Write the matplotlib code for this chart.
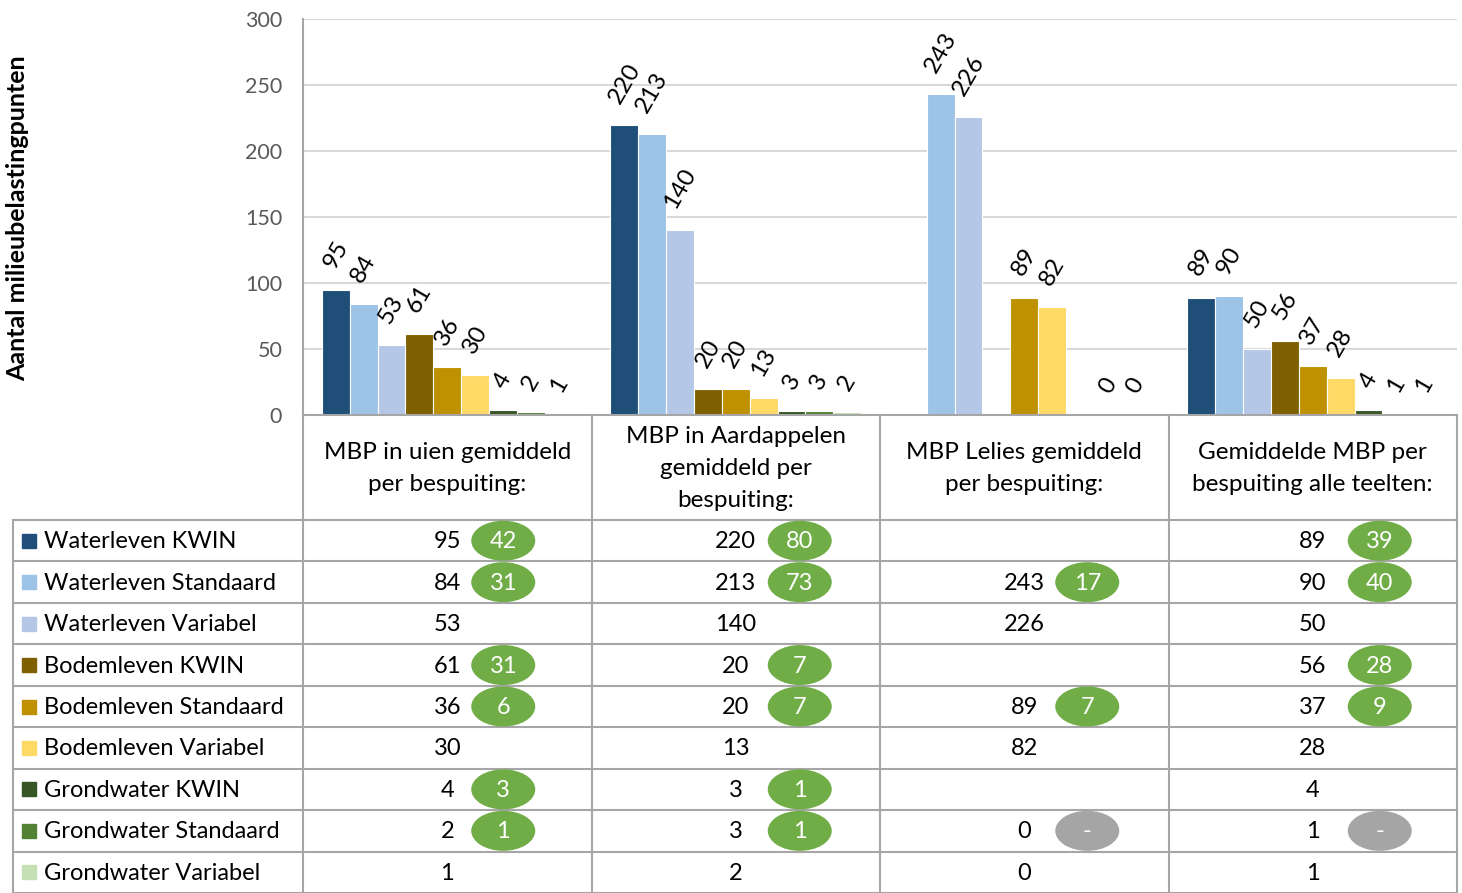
import numpy as np
import matplotlib
matplotlib.use("Agg")
import matplotlib.pyplot as plt
from matplotlib.patches import Ellipse, Rectangle

plt.rcParams['font.family'] = ['Lato', 'DejaVu Sans']

# ---------------- data ----------------
categories = ["MBP in uien gemiddeld\nper bespuiting:",
              "MBP in Aardappelen\ngemiddeld per\nbespuiting:",
              "MBP Lelies gemiddeld\nper bespuiting:",
              "Gemiddelde MBP per\nbespuiting alle teelten:"]

series_names = ["Waterleven KWIN", "Waterleven Standaard", "Waterleven Variabel",
                "Bodemleven KWIN", "Bodemleven Standaard", "Bodemleven Variabel",
                "Grondwater KWIN", "Grondwater Standaard", "Grondwater Variabel"]

series_colors = ["#1F4E79", "#9DC3E6", "#B4C7E7",
                 "#7F6000", "#BF9000", "#FFD966",
                 "#375623", "#548235", "#C5E0B4"]

nan = np.nan
waterleven_kwin = [95, 220, nan, 89]
waterleven_standaard = [84, 213, 243, 90]
waterleven_variabel = [53, 140, 226, 50]
bodemleven_kwin = [61, 20, nan, 56]
bodemleven_standaard = [36, 20, 89, 37]
bodemleven_variabel = [30, 13, 82, 28]
grondwater_kwin = [4, 3, nan, 4]
grondwater_standaard = [2, 3, 0, 1]
grondwater_variabel = [1, 2, 0, 1]

values = [waterleven_kwin, waterleven_standaard, waterleven_variabel,
          bodemleven_kwin, bodemleven_standaard, bodemleven_variabel,
          grondwater_kwin, grondwater_standaard, grondwater_variabel]

# bubble annotations (row index, column index, text)
bubble_rows = [0, 1, 3, 4, 6, 7,
               0, 1, 3, 4, 6, 7,
               1, 4, 7,
               0, 1, 3, 4, 7]
bubble_cols = [0, 0, 0, 0, 0, 0,
               1, 1, 1, 1, 1, 1,
               2, 2, 2,
               3, 3, 3, 3, 3]
bubble_texts = ["42", "31", "31", "6", "3", "1",
                "80", "73", "7", "7", "1", "1",
                "17", "7", "-",
                "39", "40", "28", "9", "-"]

yticks = [0, 50, 100, 150, 200, 250, 300]

# ---------------- layout ----------------
W, H = 1462, 893
fig = plt.figure(figsize=(W / 100, H / 100), dpi=100)

plot_left, plot_right = 303, 1457
plot_top, plot_bottom = 19, 415
table_top = 520
n_rows = len(series_names)
row_h = (H - table_top) / n_rows
table_left = 13
col_edges = np.linspace(plot_left, plot_right, len(categories) + 1)
bubble_dx = [56, 64, 63, 67]

FS = 17
GRID = "#D9D9D9"
LINE = "#A6A6A6"

ax = fig.add_axes([plot_left / W, 1 - plot_bottom / H,
                   (plot_right - plot_left) / W, (plot_bottom - plot_top) / H])
n_cat = len(categories)
x = np.arange(n_cat)
bw = 0.0965
for j, (vals, col) in enumerate(zip(values, series_colors)):
    xs = x + (j - (len(values) - 1) / 2) * bw
    v = np.array(vals, dtype=float)
    ax.bar(xs, v, width=bw, color=col, edgecolor="white", linewidth=0.8, zorder=3)
    for xi, vi in zip(xs, v):
        if np.isnan(vi):
            continue
        ax.annotate(f"{int(vi)}", (xi, vi), xytext=(0, 13), textcoords="offset points",
                    ha="center", va="bottom", rotation=60, fontsize=17.5, color="black",
                    zorder=4)

ax.set_xlim(-0.5, n_cat - 0.5)
ax.set_ylim(0, 300)
ax.set_yticks(yticks)
ax.set_yticklabels([str(t) for t in yticks], fontsize=15.5, color="#595959")
ax.tick_params(axis="y", length=0, pad=15)
ax.set_xticks([])
ax.yaxis.grid(True, color=GRID, linewidth=1.5, zorder=0)
for s in ["top", "right", "bottom"]:
    ax.spines[s].set_visible(False)
ax.spines["left"].set_color(LINE)
ax.spines["left"].set_linewidth(1.5)

fig.text(18 / W, 1 - 218 / H, "Aantal milieubelastingpunten", rotation=90,
         ha="center", va="center", fontsize=18, fontweight="bold")

# ---------------- table overlay ----------------
tx = fig.add_axes([0, 0, 1, 1])
tx.set_xlim(0, W)
tx.set_ylim(H, 0)
tx.axis("off")

lw = 1.5
tx.plot([plot_left, plot_right], [plot_bottom, plot_bottom], color=LINE, lw=lw)
for ce in col_edges:
    tx.plot([ce, ce], [plot_bottom, H], color=LINE, lw=lw)
tx.plot([table_left, table_left], [table_top, H], color=LINE, lw=lw)
for r in range(n_rows + 1):
    yy = table_top + r * row_h
    tx.plot([table_left, plot_right], [yy, yy], color=LINE, lw=lw)

for c, cat in enumerate(categories):
    cx = (col_edges[c] + col_edges[c + 1]) / 2
    tx.text(cx, (plot_bottom + table_top) / 2 + 1, cat, ha="center", va="center",
            fontsize=17.5, linespacing=1.65)

for r, (name, col) in enumerate(zip(series_names, series_colors)):
    cy = table_top + (r + 0.5) * row_h
    tx.add_patch(Rectangle((22, cy - 7), 14, 14, color=col))
    tx.text(44, cy + 1, name, ha="left", va="center", fontsize=FS)
    for c in range(n_cat):
        v = values[r][c]
        if np.isnan(v):
            continue
        cx = (col_edges[c] + col_edges[c + 1]) / 2
        tx.text(cx, cy + 1, f"{int(v)}", ha="center", va="center", fontsize=FS)

for r, c, t in zip(bubble_rows, bubble_cols, bubble_texts):
    cy = table_top + (r + 0.5) * row_h
    cx = (col_edges[c] + col_edges[c + 1]) / 2 + bubble_dx[c]
    fc = "#A5A5A5" if t == "-" else "#70AD47"
    tx.add_patch(Ellipse((cx, cy), 64, 40, facecolor=fc, edgecolor="none", zorder=5))
    tx.text(cx, cy + 1, t, ha="center", va="center", fontsize=FS, color="white", zorder=6)

fig.savefig("out.png", dpi=100)
